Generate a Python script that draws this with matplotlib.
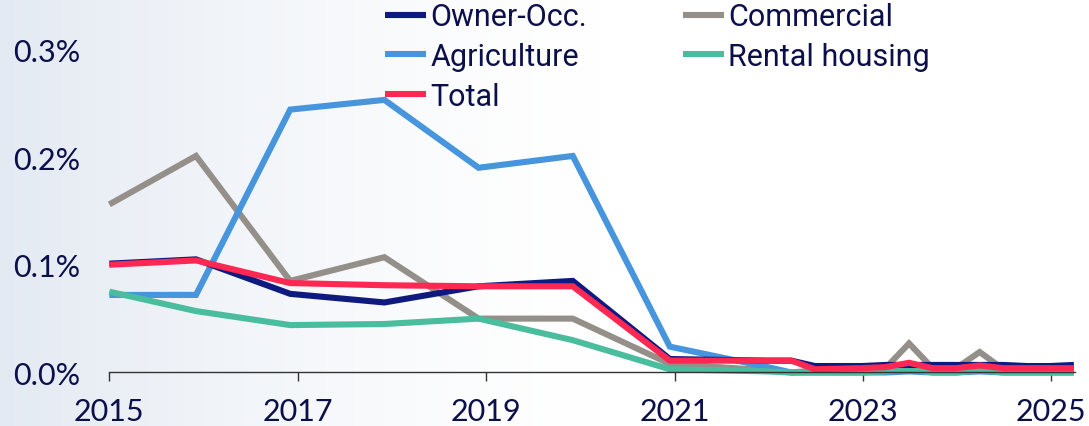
import numpy as np
import matplotlib
matplotlib.use("Agg")
import matplotlib.pyplot as plt
from matplotlib import font_manager
from matplotlib.ticker import FuncFormatter, FixedLocator

# quarter-ish positions in fractional years
x_pos = [2015.0, 2015.92, 2016.92, 2017.92, 2018.92, 2019.92, 2020.95, 2021.99,
         2022.24, 2022.49, 2022.74, 2022.99, 2023.24, 2023.49, 2023.74, 2023.99,
         2024.24, 2024.49, 2024.74, 2024.99, 2025.24]

owner_occ = [0.101, 0.105, 0.073, 0.065, 0.080, 0.085, 0.0125, 0.011,
             0.011, 0.006, 0.006, 0.006, 0.007, 0.007, 0.007, 0.007,
             0.007, 0.007, 0.006, 0.006, 0.007]
agriculture = [0.072, 0.072, 0.244, 0.253, 0.190, 0.201, 0.024, 0.005,
               0.0, 0.0, 0.0, 0.0, 0.0, 0.001, 0.0, 0.0,
               0.001, 0.0, 0.0, 0.0, 0.0]
commercial = [0.156, 0.201, 0.085, 0.107, 0.050, 0.050, 0.008, 0.002,
              0.0, 0.002, 0.003, 0.003, 0.004, 0.027, 0.004, 0.004,
              0.019, 0.003, 0.003, 0.003, 0.003]
rental = [0.075, 0.057, 0.044, 0.045, 0.050, 0.030, 0.003, 0.001,
          0.0, 0.0, 0.0, 0.0, 0.001, 0.003, 0.0, 0.0,
          0.002, 0.0, 0.0, 0.0, 0.0]
total = [0.100, 0.104, 0.083, 0.081, 0.080, 0.080, 0.011, 0.011,
         0.011, 0.003, 0.0035, 0.004, 0.005, 0.009, 0.004, 0.004,
         0.0065, 0.004, 0.004, 0.004, 0.004]

year_ticks = [2015, 2017, 2019, 2021, 2023, 2025]
pct_ticks = [0.0, 0.1, 0.2, 0.3]

TEXT = "#0b0f4a"
installed = {f.name for f in font_manager.fontManager.ttflist}
tick_font = "Lato" if "Lato" in installed else "DejaVu Sans"
legend_font = "Liberation Sans Narrow" if "Liberation Sans Narrow" in installed else "Roboto"

fig = plt.figure(figsize=(10.89, 4.27), dpi=100)

# soft blue-grey wash on the left fading to white
bg = fig.add_axes([0, 0, 1, 1], zorder=-10)
gx = np.linspace(0, 1, 400)
gy = np.linspace(0, 1, 200)
GX, GY = np.meshgrid(gx, gy)
t = np.clip(1 - GX / 0.55, 0, 1) ** 1.4
c0 = np.array([0.895, 0.918, 0.952])
img = 1 - t[..., None] * (1 - c0)
bg.imshow(img, aspect="auto", extent=[0, 1, 0, 1], origin="lower")
bg.axis("off")

ax = fig.add_axes([0.1004, 0.1253, 0.8866, 0.757])
ax.patch.set_alpha(0)

series = [
    ("Commercial", commercial, "#958f89"),
    ("Agriculture", agriculture, "#4695dd"),
    ("Rental housing", rental, "#4bbd9f"),
    ("Owner-Occ.", owner_occ, "#0f1a80"),
    ("Total", total, "#ff2852"),
]
handles = {}
for name, vals, col in series:
    (ln,) = ax.plot(x_pos, vals, color=col, lw=4.4, solid_joinstyle="miter",
                    solid_capstyle="butt", clip_on=False, label=name)
    handles[name] = ln

ax.set_xlim(2015, 2025.25)
ax.set_ylim(0, 0.3)
ax.xaxis.set_major_locator(FixedLocator(year_ticks))
ax.yaxis.set_major_locator(FixedLocator(pct_ticks))
ax.yaxis.set_major_formatter(FuncFormatter(lambda v, p: f"{v:.1f}%"))

for s in ["top", "right", "left"]:
    ax.spines[s].set_visible(False)
ax.spines["bottom"].set_color("#333333")
ax.spines["bottom"].set_linewidth(1.0)
ax.tick_params(axis="x", direction="out", length=6.5, width=1.0, color="#333333",
               pad=11, labelsize=22, labelcolor=TEXT)
ax.tick_params(axis="y", length=0, pad=21, labelsize=22, labelcolor=TEXT)
for lab in ax.get_xticklabels() + ax.get_yticklabels():
    lab.set_fontfamily(tick_font)

order = ["Owner-Occ.", "Agriculture", "Total", "Commercial", "Rental housing"]
leg = fig.legend([handles[n] for n in order], order, ncol=2, frameon=False,
                 loc="upper left", bbox_to_anchor=(0.342, 1.021),
                 prop={"family": legend_font, "size": 22},
                 handlelength=1.35, handletextpad=0.15, labelspacing=0.35,
                 columnspacing=3.12, borderaxespad=0)
for txt in leg.get_texts():
    txt.set_color(TEXT)

fig.savefig("out.png", dpi=100)
